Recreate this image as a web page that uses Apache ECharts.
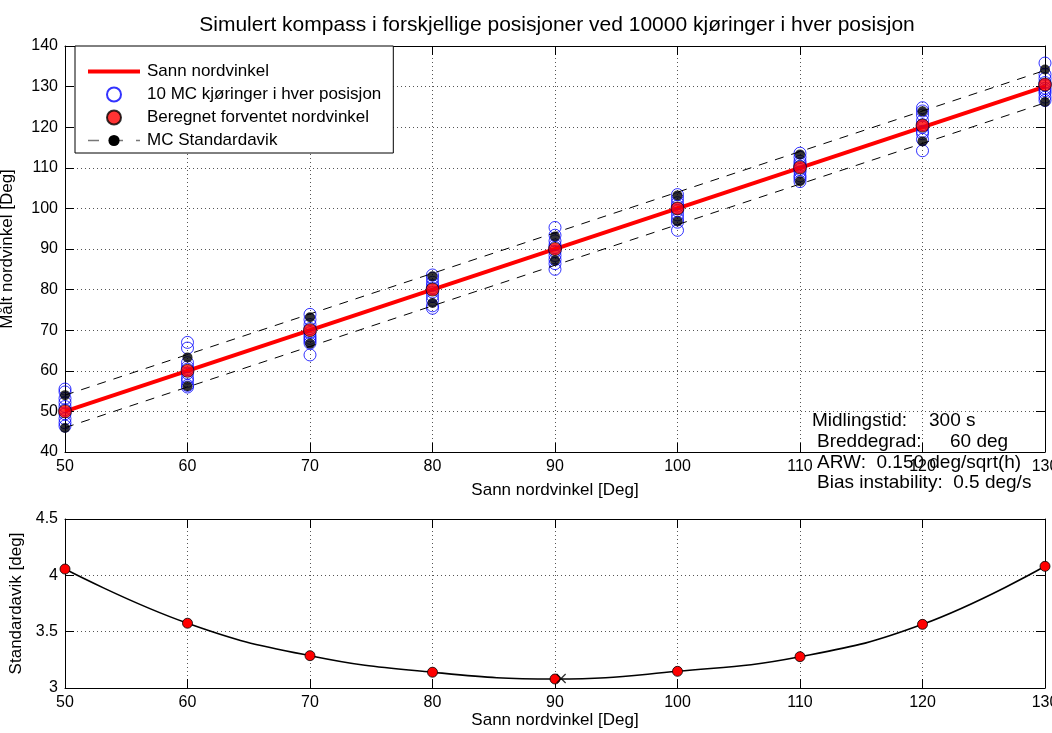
<!DOCTYPE html>
<html>
<head>
<meta charset="utf-8">
<script src="https://cdn.jsdelivr.net/npm/echarts@6/dist/echarts.min.js"></script>
<style>
  html, body { margin: 0; padding: 0; background: #fff; }
  #chart { width: 1052px; height: 733px; }
</style>
</head>
<body>
<div id="chart"></div>
<script>
// Positions (true north angle) where the compass was simulated
const positions = [50, 60, 70, 80, 90, 100, 110, 120, 130];

// True north angle (reference line)
const trueX = [50, 130];
const trueY = [50, 130];

// 10 Monte Carlo runs in each position
const mcRuns = [
  [55.5, 54.8, 53.2, 52.2, 51.2, 50.4, 49.4, 48.2, 47.2, 46.4],
  [67.0, 65.6, 62.0, 61.0, 60.4, 59.4, 58.2, 57.4, 56.4, 56.0],
  [73.9, 72.6, 71.4, 70.4, 69.4, 68.6, 68.0, 67.4, 66.8, 63.9],
  [83.6, 82.8, 81.8, 81.0, 80.4, 79.4, 78.4, 77.4, 76.0, 75.4],
  [95.3, 93.4, 92.0, 91.0, 90.4, 89.4, 88.4, 87.4, 86.4, 85.0],
  [103.4, 102.4, 101.4, 100.6, 100.0, 99.4, 98.4, 97.4, 96.6, 94.6],
  [113.6, 112.6, 111.6, 111.0, 110.4, 109.6, 109.0, 108.0, 107.4, 106.6],
  [124.8, 124.0, 123.0, 121.6, 120.6, 120.0, 119.0, 118.4, 117.0, 114.2],
  [135.8, 133.0, 132.0, 131.0, 130.4, 129.6, 129.0, 128.4, 127.4, 126.6]
];

// Expected north angle computed in each position
const expected = [50.0, 60.0, 70.0, 80.0, 90.0, 100.0, 110.1, 120.4, 130.5];

// Expected angle plus / minus one MC standard deviation
const stdUpper = [54.0, 63.3, 73.2, 83.3, 93.1, 103.2, 113.3, 123.9, 134.2];
const stdLower = [45.9, 56.2, 66.7, 76.7, 87.2, 96.8, 106.7, 116.5, 126.2];

// Dashed band lines
const bandX = [50, 130];
const bandUpper = [54, 134];
const bandLower = [46, 126];

// Standard deviation per position (lower panel)
const stdDev = [4.056, 3.575, 3.287, 3.14, 3.08, 3.148, 3.278, 3.565, 4.08];
// Minimum of the standard deviation curve
const stdMin = [90.5, 3.085];

// Axis ticks
const xTicks = { min: 50, max: 130, step: 10 };
const yTopTicks = { min: 40, max: 140, step: 10 };
const yBotTicks = { min: 3, max: 4.5, step: 0.5 };

// Simulation parameters shown in the text block
const paramLines = [
  { label: 'Midlingstid:', value: '300 s' },
  { label: 'Breddegrad:', value: '60 deg' },
  { label: 'ARW:  0.150 deg/sqrt(h)', value: '' },
  { label: 'Bias instability:  0.5 deg/s', value: '' }
];

const FONT = '"Liberation Sans", Arial, Helvetica, sans-serif';
const gridLine = { show: true, lineStyle: { color: '#555', width: 1, type: [1, 3] } };
const axLine = { show: true, lineStyle: { color: '#000', width: 1 } };
const tick = { show: true, inside: true, length: 9, lineStyle: { color: '#000' } };
const tickLabel = { color: '#000', fontFamily: FONT, fontSize: 16, margin: 7 };
const nameStyle = { color: '#000', fontFamily: FONT, fontSize: 17 };

function zip(xs, ys) { return xs.map((x, i) => [x, ys[i]]); }

const runPoints = [];
positions.forEach((x, i) => mcRuns[i].forEach(v => runPoints.push([x, v])));

const chart = echarts.init(document.getElementById('chart'), null, { renderer: 'canvas' });

const option = {
  backgroundColor: '#fff',
  animation: false,
  title: {
    text: 'Simulert kompass i forskjellige posisjoner ved 10000 kjøringer i hver posisjon',
    left: 552, textAlign: 'center', top: 10,
    textStyle: { color: '#000', fontFamily: FONT, fontSize: 21, fontWeight: 'normal' }
  },
  grid: [
    { left: 65, right: 7, top: 46, bottom: 281, containLabel: false, outerBoundsMode: 'none' },
    { left: 65, right: 7, top: 519, bottom: 45, containLabel: false, outerBoundsMode: 'none' }
  ],
  legend: {
    left: 75, top: 46, orient: 'vertical',
    backgroundColor: '#fff', borderColor: '#000', borderWidth: 1,
    padding: [17, 12, 4, 11],
    itemWidth: 52, itemHeight: 14, itemGap: 6,
    textStyle: { color: '#000', fontFamily: FONT, fontSize: 17, padding: [0, 0, 0, 2] },
    data: [
      { name: 'Sann nordvinkel', itemStyle: { opacity: 0 }, lineStyle: { width: 4, color: '#ff0000' } },
      '10 MC kjøringer i hver posisjon',
      'Beregnet forventet nordvinkel',
      { name: 'MC Standardavik', lineStyle: { color: '#777', width: 1.5, type: [11, 13] } }
    ]
  },
  xAxis: [
    { gridIndex: 0, type: 'value', min: xTicks.min, max: xTicks.max, interval: xTicks.step,
      name: 'Sann nordvinkel [Deg]', nameLocation: 'middle', nameGap: 30, nameTextStyle: nameStyle,
      axisLine: axLine, axisTick: tick, axisLabel: tickLabel, splitLine: gridLine },
    { gridIndex: 0, type: 'value', position: 'top', min: xTicks.min, max: xTicks.max, interval: xTicks.step,
      axisLine: axLine, axisTick: tick, axisLabel: { show: false }, splitLine: { show: false } },
    { gridIndex: 1, type: 'value', min: xTicks.min, max: xTicks.max, interval: xTicks.step,
      name: 'Sann nordvinkel [Deg]', nameLocation: 'middle', nameGap: 21, nameTextStyle: nameStyle,
      axisLine: axLine, axisTick: tick, axisLabel: tickLabel, splitLine: gridLine },
    { gridIndex: 1, type: 'value', position: 'top', min: xTicks.min, max: xTicks.max, interval: xTicks.step,
      axisLine: axLine, axisTick: tick, axisLabel: { show: false }, splitLine: { show: false } }
  ],
  yAxis: [
    { gridIndex: 0, type: 'value', min: yTopTicks.min, max: yTopTicks.max, interval: yTopTicks.step,
      name: 'Målt nordvinkel [Deg]', nameLocation: 'middle', nameGap: 49, nameTextStyle: nameStyle,
      axisLine: axLine, axisTick: tick, axisLabel: tickLabel, splitLine: gridLine },
    { gridIndex: 0, type: 'value', position: 'right', min: yTopTicks.min, max: yTopTicks.max, interval: yTopTicks.step,
      axisLine: axLine, axisTick: tick, axisLabel: { show: false }, splitLine: { show: false } },
    { gridIndex: 1, type: 'value', min: yBotTicks.min, max: yBotTicks.max, interval: yBotTicks.step,
      name: 'Standardavik [deg]', nameLocation: 'middle', nameGap: 38, nameTextStyle: nameStyle,
      axisLine: axLine, axisTick: tick, axisLabel: tickLabel, splitLine: gridLine },
    { gridIndex: 1, type: 'value', position: 'right', min: yBotTicks.min, max: yBotTicks.max, interval: yBotTicks.step,
      axisLine: axLine, axisTick: tick, axisLabel: { show: false }, splitLine: { show: false } }
  ],
  series: [
    { name: 'Sann nordvinkel', type: 'line', xAxisIndex: 0, yAxisIndex: 0,
      data: zip(trueX, trueY), symbol: 'none', clip: false,
      lineStyle: { color: '#ff0000', width: 4 }, itemStyle: { color: '#ff0000' }, z: 2 },
    { name: '10 MC kjøringer i hver posisjon', type: 'scatter', xAxisIndex: 0, yAxisIndex: 0,
      data: runPoints, symbol: 'circle', symbolSize: 12, clip: false,
      itemStyle: { color: 'rgba(0,0,0,0)', borderColor: '#0000ff', borderWidth: 1 }, z: 3 },
    { name: 'Beregnet forventet nordvinkel', type: 'scatter', xAxisIndex: 0, yAxisIndex: 0,
      data: zip(positions, expected), symbol: 'circle', symbolSize: 13, clip: false,
      itemStyle: { color: '#ff0000', borderColor: '#000', borderWidth: 0.8 }, z: 4 },
    { name: 'MC Standardavik', type: 'line', xAxisIndex: 0, yAxisIndex: 0,
      data: zip(bandX, bandUpper).map(p => ({ value: p, symbol: 'none' })),
      symbol: 'circle', symbolSize: 10, clip: false,
      itemStyle: { color: '#000' }, lineStyle: { color: '#000', width: 1, type: [9, 8] }, z: 5 },
    { name: 'MC Standardavik', type: 'line', xAxisIndex: 0, yAxisIndex: 0,
      data: zip(bandX, bandLower).map(p => ({ value: p, symbol: 'none' })),
      symbol: 'circle', symbolSize: 10, clip: false,
      itemStyle: { color: '#000' }, lineStyle: { color: '#000', width: 1, type: [9, 8] }, z: 5 },
    { name: 'MC Standardavik', type: 'scatter', xAxisIndex: 0, yAxisIndex: 0,
      data: zip(positions, stdUpper).concat(zip(positions, stdLower)),
      symbol: 'circle', symbolSize: 10, clip: false,
      itemStyle: { color: '#000' }, z: 6 },

    { name: 'std-kurve', type: 'line', xAxisIndex: 2, yAxisIndex: 2,
      data: zip(positions, stdDev), smooth: 0.45, symbol: 'circle', symbolSize: 10, clip: false,
      lineStyle: { color: '#000', width: 1.6 },
      itemStyle: { color: '#ff0000', borderColor: '#000', borderWidth: 0.8 }, z: 3 },
    { name: 'std-min', type: 'scatter', xAxisIndex: 2, yAxisIndex: 2,
      data: [stdMin], symbol: 'path://M0,0 L10,10 M10,0 L0,10', symbolSize: 9, clip: false,
      itemStyle: { color: 'none', borderColor: '#000', borderWidth: 1.3 }, z: 4 }
  ],
  graphic: []
};

// Parameter text block
const lineTops = [411, 432, 453, 473];
const labelLeft = [812, 817, 817, 817];
const valueLeft = [929, 950];
paramLines.forEach((p, i) => {
  option.graphic.push({ type: 'text', left: labelLeft[i], top: lineTops[i], z: 100,
    style: { text: p.label, fill: '#000', font: '19px ' + FONT } });
  if (p.value) {
    option.graphic.push({ type: 'text', left: valueLeft[i], top: lineTops[i], z: 100,
      style: { text: p.value, fill: '#000', font: '19px ' + FONT } });
  }
});

chart.setOption(option);
</script>
</body>
</html>
